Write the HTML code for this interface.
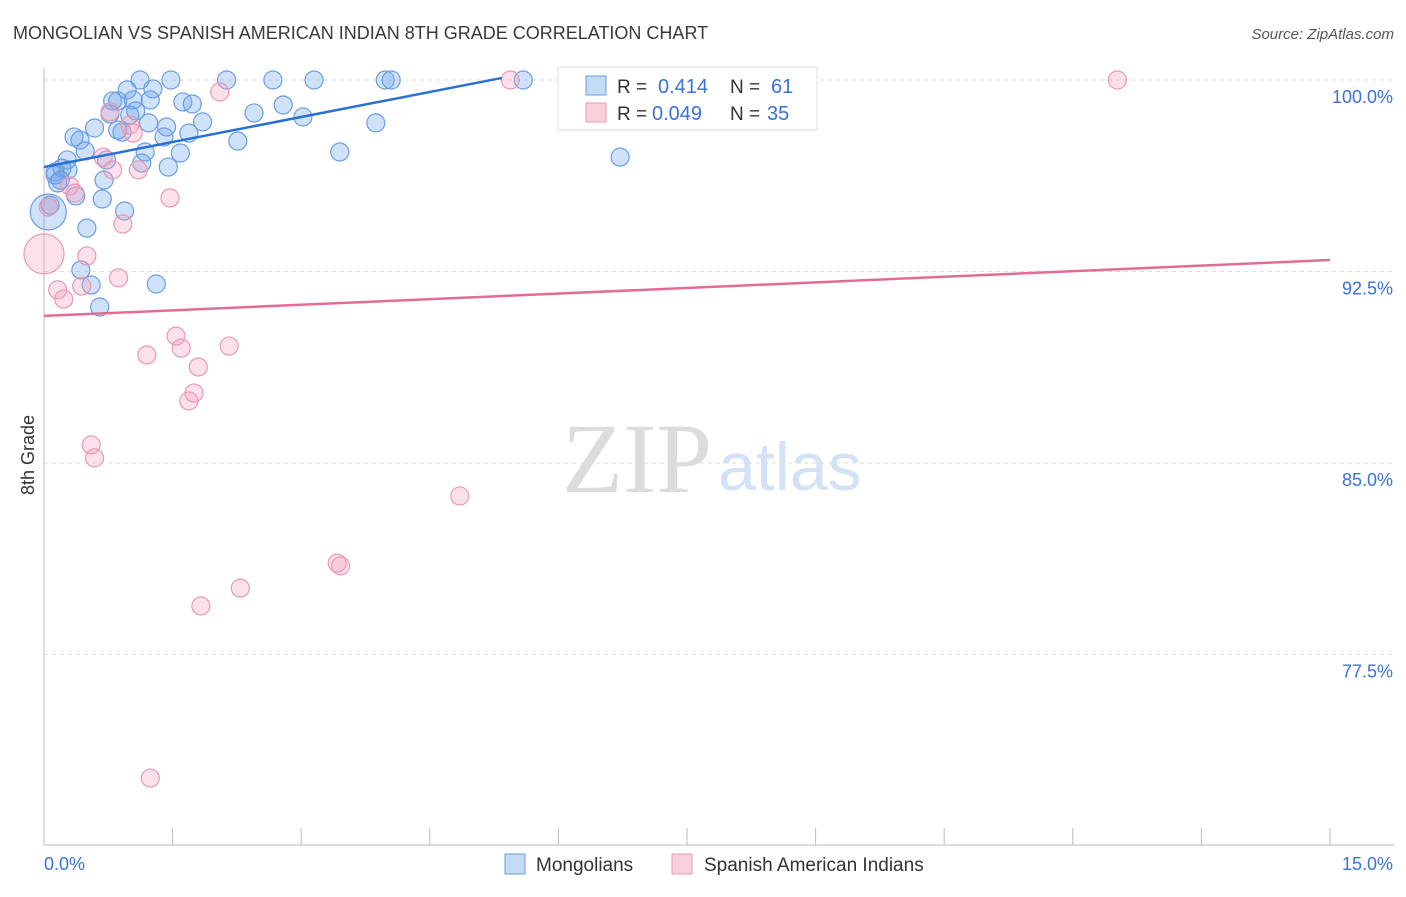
<!DOCTYPE html>
<html><head><meta charset="utf-8"><style>
body{margin:0;background:#fff;font-family:"Liberation Sans",sans-serif}
svg text{font-family:"Liberation Sans",sans-serif}
</style></head><body>
<svg id="c" width="1406" height="892" xmlns="http://www.w3.org/2000/svg">
<text x="13" y="39" font-size="18" fill="#3a3a3a">MONGOLIAN VS SPANISH AMERICAN INDIAN 8TH GRADE CORRELATION CHART</text>
<text x="1394" y="39" font-size="15" fill="#555" font-style="italic" text-anchor="end">Source: ZipAtlas.com</text>
<text x="712" y="492" font-size="100" fill="#dcdcdc" text-anchor="end" style="font-family:'Liberation Serif',serif">ZIP</text>
<text x="718" y="490" font-size="68" fill="#d3e2f5">atlas</text>
<g id="grid"></g><g id="axes"></g><g id="pts"></g><g id="lines"></g>
<text transform="translate(34,455) rotate(-90)" font-size="18" fill="#333" text-anchor="middle">8th Grade</text>
<text x="44" y="870" font-size="18" fill="#3a72d8">0.0%</text>
<text x="1393" y="870" font-size="18" fill="#3a72d8" text-anchor="end">15.0%</text>
<g>
<rect x="558" y="67" width="259" height="63" fill="#fff" stroke="#ddd"/>
<rect x="586" y="76" width="20" height="19" fill="#c5dbf5" stroke="#6a9ee0"/>
<rect x="586" y="103" width="20" height="19" fill="#fbd0dd" stroke="#e899b4"/>
<text x="617" y="93" font-size="19" fill="#333">R =</text>
<text x="658" y="93" font-size="20" fill="#3a72d8">0.414</text>
<text x="730" y="93" font-size="19" fill="#333">N =</text>
<text x="771" y="93" font-size="20" fill="#3a72d8">61</text>
<text x="617" y="120" font-size="19" fill="#333">R =</text>
<text x="652" y="120" font-size="20" fill="#3a72d8">0.049</text>
<text x="730" y="120" font-size="19" fill="#333">N =</text>
<text x="767" y="120" font-size="20" fill="#3a72d8">35</text>
</g>
<g>
<rect x="505" y="854" width="20" height="20" fill="#c5dbf5" stroke="#6a9ee0"/>
<text x="536" y="871" font-size="19" fill="#333">Mongolians</text>
<rect x="672" y="854" width="20" height="20" fill="#fbd0dd" stroke="#e899b4"/>
<text x="704" y="871" font-size="19" fill="#333">Spanish American Indians</text>
</g>
</svg>
<script>
const yTicks=[100,92.5,85,77.5];
const yTickLabels=["100.0%","92.5%","85.0%","77.5%"];
const blueX=[1.12,1.48,2.13,2.67,3.15,3.98,4.05,5.59,0.97,1.27,0.80,1.04,1.24,1.62,1.73,0.86,0.77,1.07,2.45,2.79,3.02,3.87,1.85,1.22,1.43,0.59,0.91,0.35,0.42,1.69,1.40,2.26,0.48,1.18,1.59,3.45,6.72,0.27,0.73,1.14,1.45,0.21,0.28,0.13,0.19,0.70,0.37,0.68,0.94,0.07,0.05,0.50,0.43,1.31,0.55,0.65,0.13,1.00,0.86,0.16];
const blueY=[100,100,100,100,100,100,100,100,99.61,99.65,99.18,99.22,99.22,99.14,99.06,99.18,98.67,98.79,98.71,99.02,98.55,98.32,98.36,98.32,98.16,98.12,97.96,97.77,97.65,97.92,97.77,97.61,97.22,97.18,97.14,97.18,96.98,96.87,96.87,96.75,96.59,96.55,96.48,96.40,96.08,96.08,95.46,95.34,94.87,95.10,94.83,94.20,92.56,92.01,91.97,91.11,96.28,98.63,98.04,95.97];
const pinkX=[5.44,12.52,2.05,0.77,1.00,1.04,0.69,0.80,1.10,0.30,0.36,0.05,0.92,1.47,0.00,0.50,0.87,0.16,0.44,0.23,1.54,1.60,2.16,1.20,1.80,1.75,1.69,0.55,0.59,4.85,3.42,3.46,2.29,1.83,1.24];
const pinkY=[100,100,99.53,98.75,98.24,97.92,96.98,96.48,96.48,95.85,95.57,95.03,94.36,95.38,93.19,93.11,92.25,91.78,91.93,91.42,89.97,89.50,89.58,89.23,88.76,87.74,87.43,85.71,85.20,83.71,81.08,80.97,80.10,79.40,72.66];
const blueTrend=[[0,96.59],[5.34,100.08]];
const pinkTrend=[[0,90.76],[15,92.95]];
const X=v=>44+v/15*1286, Y=v=>80+(100-v)/7.5*191.5;
const NS="http://www.w3.org/2000/svg";
function mk(t,a,p){const e=document.createElementNS(NS,t);for(const k in a)e.setAttribute(k,a[k]);document.getElementById(p).appendChild(e);return e;}
yTicks.forEach((t,i)=>{
 const g=mk('line',{x1:44,x2:1394,y1:Y(t),y2:Y(t),stroke:'#ddd','stroke-dasharray':'4 4'},'grid');
 
 
 const l=mk('text',{x:1393,y:Y(t)+23,'font-size':18,fill:'#3a72d8','text-anchor':'end'},'grid');
 l.textContent=yTickLabels[i];
 
 
});
const ax=mk('line',{x1:44,x2:44,y1:68,y2:845,stroke:'#bbb'},'axes');


const bx=mk('line',{x1:44,x2:1394,y1:845,y2:845,stroke:'#bbb'},'axes');


for(let i=0;i<=10;i++){const t=mk('line',{x1:X(i*1.5),x2:X(i*1.5),y1:828,y2:845,stroke:'#bbb'},'axes');
 
 }
function pts(xs,ys,fill,stroke,name){xs.forEach((x,i)=>{
 let r=9; if(x<0.06&&ys[i]>94.7&&ys[i]<94.9)r=18; if(x<0.01&&ys[i]>93&&ys[i]<93.3)r=20;
 const c=mk('circle',{cx:X(x),cy:Y(ys[i]),r:r,fill:fill,stroke:stroke,'stroke-width':1.2},'pts');
 
 });}
pts(blueX,blueY,'rgba(110,165,235,0.32)','#6a9ee0','mongolian-point');
pts(pinkX,pinkY,'rgba(245,160,190,0.32)','#e899b4','spanish-american-indian-point');
const bl=mk('line',{x1:X(blueTrend[0][0]),y1:Y(blueTrend[0][1]),x2:X(blueTrend[1][0]),y2:Y(blueTrend[1][1]),stroke:'#2a6fd6','stroke-width':2.5},'lines');


const pl=mk('line',{x1:X(pinkTrend[0][0]),y1:Y(pinkTrend[0][1]),x2:X(pinkTrend[1][0]),y2:Y(pinkTrend[1][1]),stroke:'#e56b95','stroke-width':2.5},'lines');


</script>
</body></html>
